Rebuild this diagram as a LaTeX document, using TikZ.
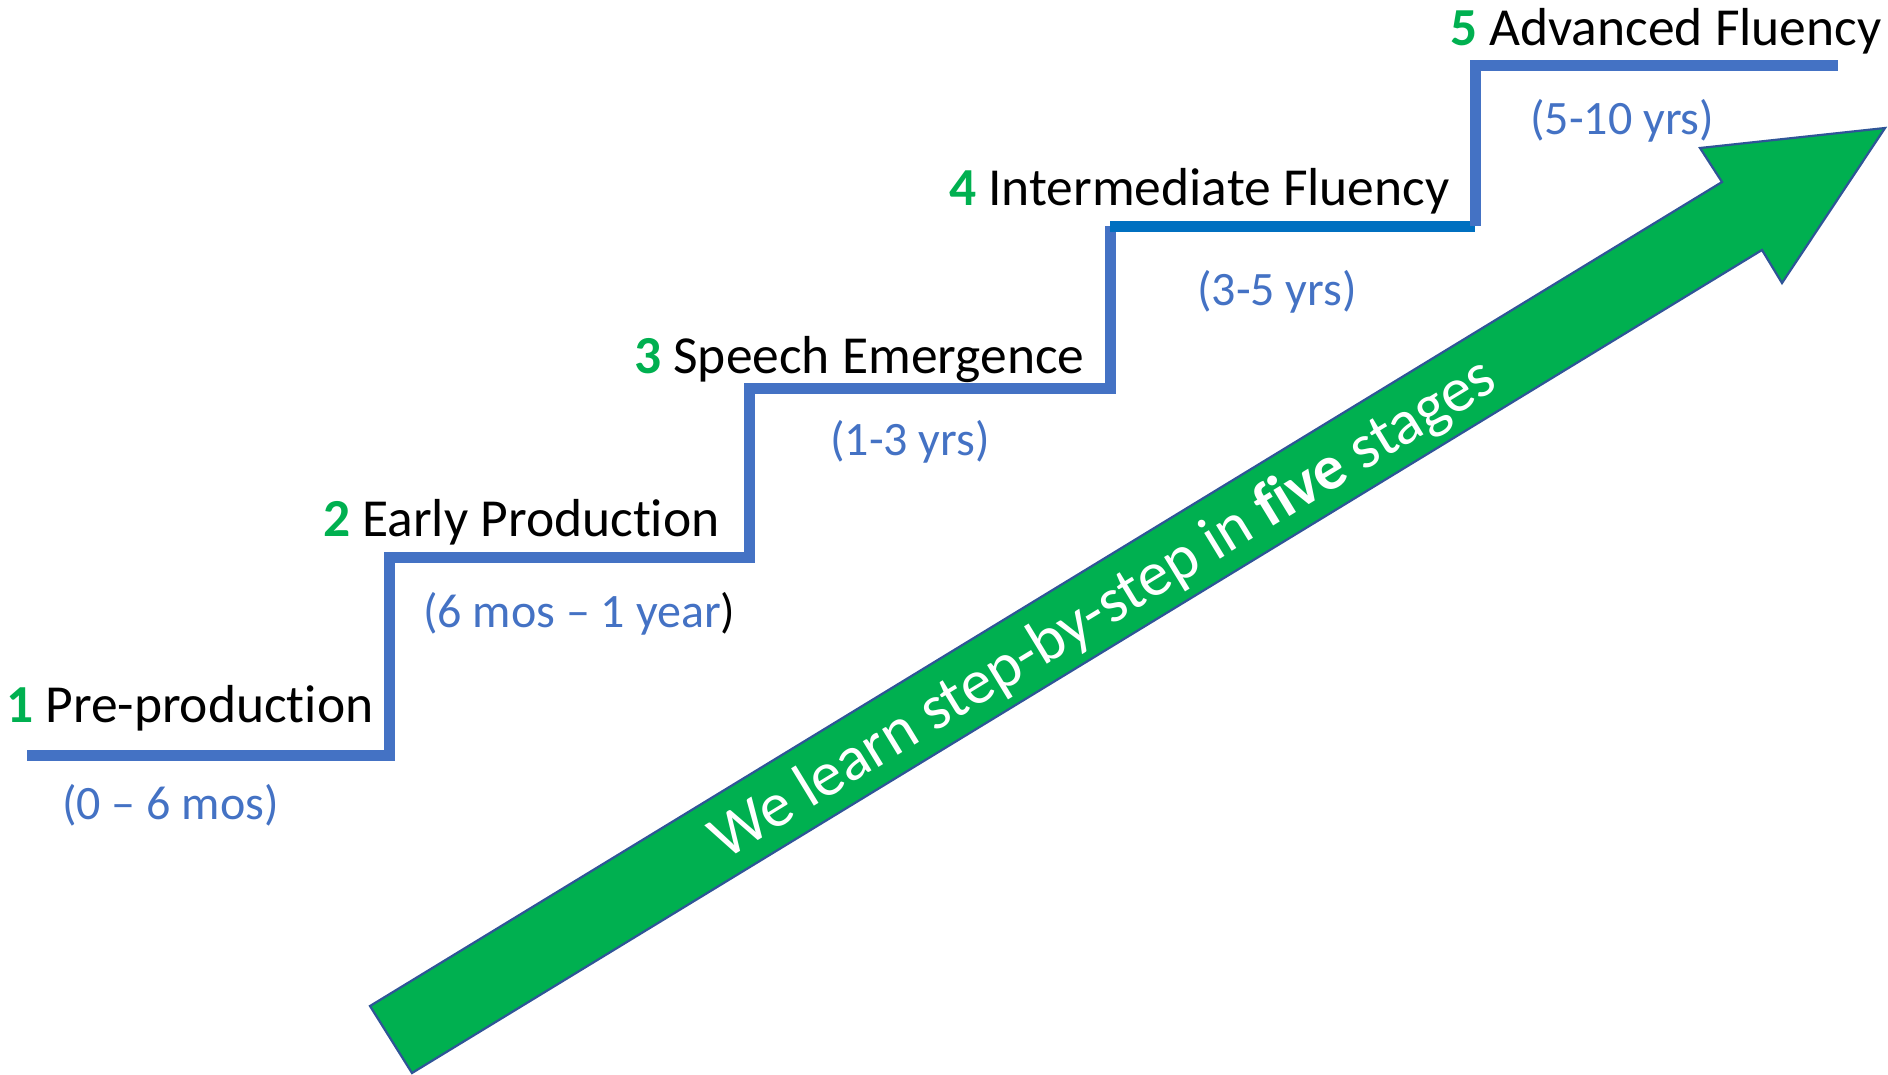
\documentclass[tikz,border=0pt]{standalone}
\usepackage{fontspec}
\setmainfont{Carlito}[Ligatures=NoCommon]
\definecolor{stairblue}{HTML}{4472C4}
\definecolor{darkblue}{HTML}{0070C0}
\definecolor{arrowgreen}{HTML}{00B050}
\definecolor{edgeblue}{HTML}{2F5597}
\begin{document}
\begin{tikzpicture}[x=1pt,y=-1pt,
  stagelabel/.style={anchor=base west,inner sep=0pt,font=\fontsize{53.5}{60}\selectfont,text=black},
  agelabel/.style={anchor=base west,inner sep=0pt,font=\fontsize{48}{54}\selectfont,text=stairblue},
  stair/.style={draw=stairblue,line width=11pt,line join=miter}]
\useasboundingbox (0,0) rectangle (1888,1074);
% arrow
\draw[fill=arrowgreen,draw=edgeblue,line width=2.2pt,line join=miter]
  (370,1006) coordinate (t1) -- (1722,182) coordinate (n1) -- (1700,148) coordinate (h1)
  -- (1885,128) coordinate (tip) -- (1782,283) coordinate (h2) -- (1762,250) coordinate (n2)
  -- (412,1073) coordinate (t2) -- cycle;
\node[rotate=31.37,text=white,inner sep=0pt,font=\fontsize{63}{70}\selectfont] (slogan) at (1104,610)
  {We learn step-by-step in \textbf{five} stages};
% stairs
\coordinate (s0) at (27,755);
\coordinate (s1) at (389,755);
\coordinate (s2) at (389,557);
\coordinate (s3) at (749,557);
\coordinate (s4) at (749,388);
\coordinate (s5) at (1110,388);
\coordinate (s6) at (1110,226);
\coordinate (s7) at (1475,226);
\coordinate (s8) at (1475,65);
\coordinate (s9) at (1838,65);
\draw[stair] (s0) -- (s1) -- (s2) -- (s3) -- (s4) -- (s5) -- (s6);
\draw[stair,draw=darkblue] (s6) -- (s7);
\draw[stair] (s7) -- (s8) -- (s9);
% labels
\node[stagelabel] (l1) at (6,722) {\textcolor{arrowgreen}{\bfseries 1} Pre-production};
\node[agelabel] (a1) at (62,819) {(0 – 6 mos)};
\node[stagelabel] (l2) at (323,536) {\textcolor{arrowgreen}{\bfseries 2} Early Production};
\node[agelabel] (a2) at (423,627) {(6 mos – 1 year\textcolor{black}{)}};
\node[stagelabel] (l3) at (634,373) {\textcolor{arrowgreen}{\bfseries 3} Speech Emergence};
\node[agelabel] (a3) at (830,455) {(1-3 yrs)};
\node[stagelabel] (l4) at (949,205) {\textcolor{arrowgreen}{\bfseries 4} Intermediate Fluency};
\node[agelabel] (a4) at (1197,305) {(3-5 yrs)};
\node[stagelabel] (l5) at (1450,45) {\textcolor{arrowgreen}{\bfseries 5} Advanced Fluency};
\node[agelabel] (a5) at (1530,134) {(5-10 yrs)};
\end{tikzpicture}
\end{document}
